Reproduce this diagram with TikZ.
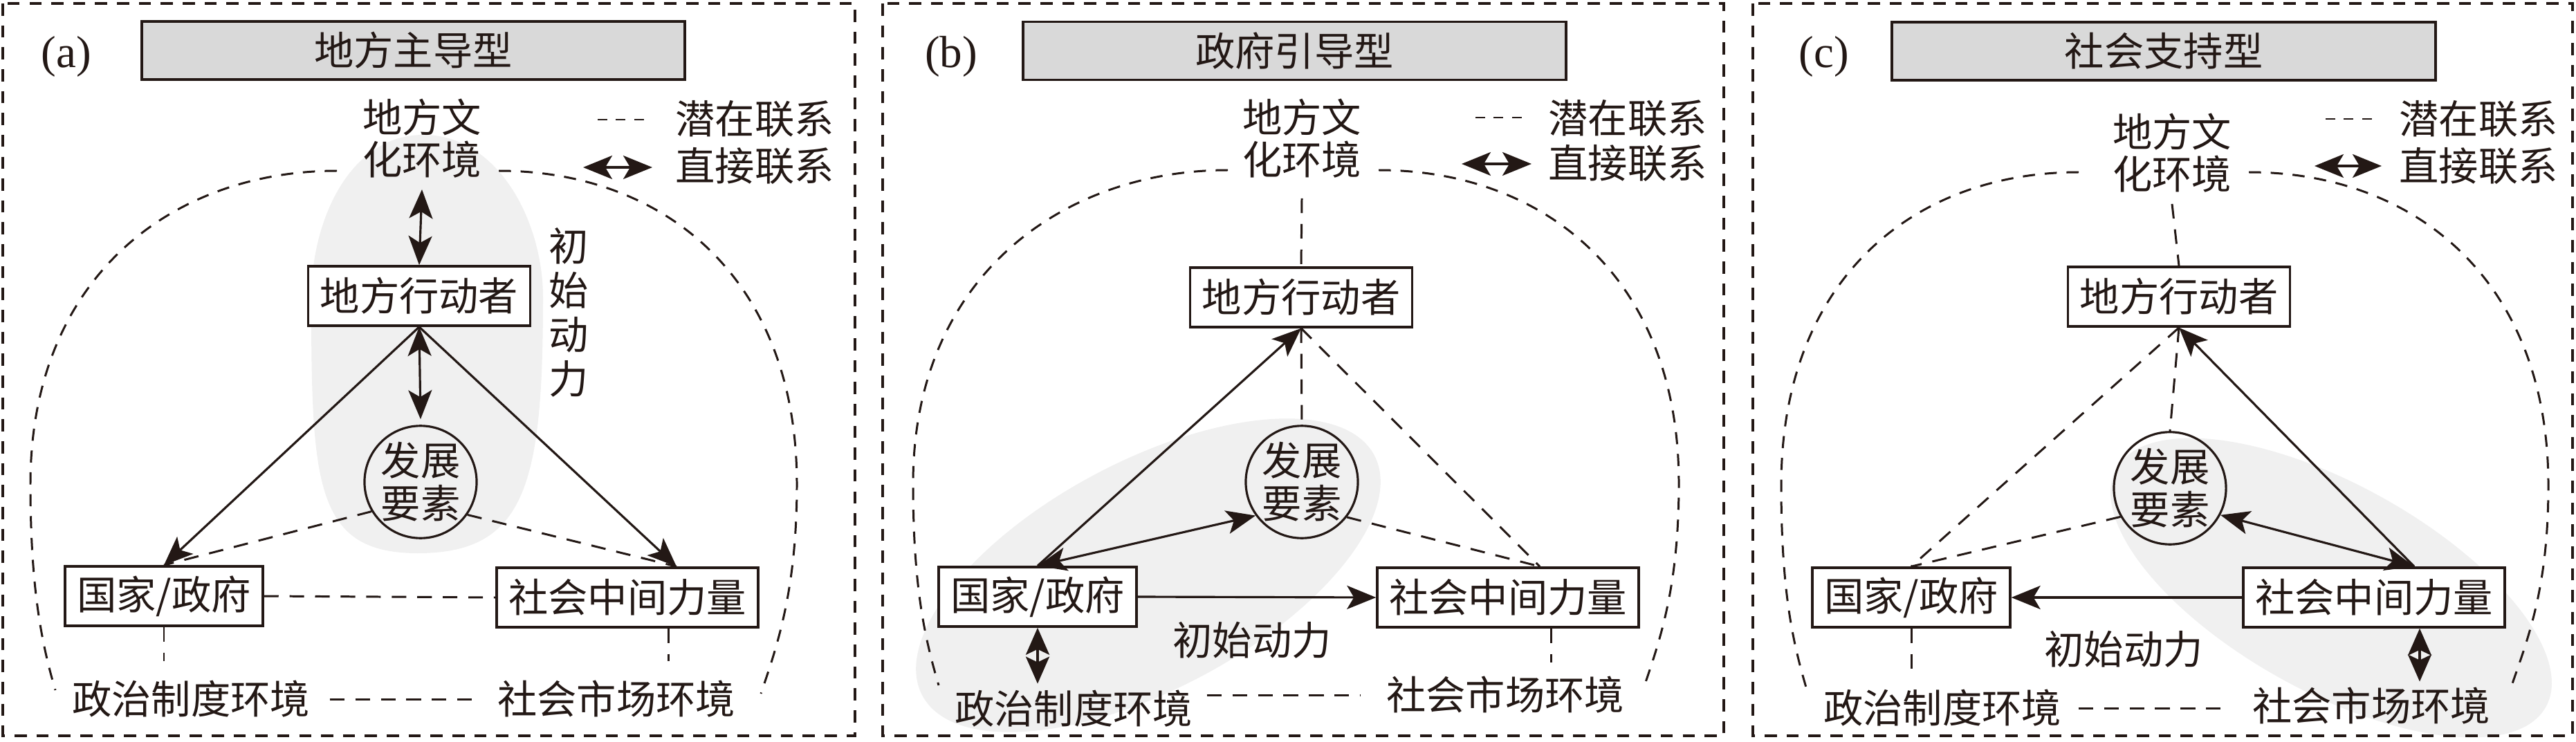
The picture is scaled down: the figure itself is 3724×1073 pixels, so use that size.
\documentclass[tikz,border=0pt]{standalone}
\usepackage{fontspec}
\setmainfont{Liberation Serif}
\newfontfamily\cjk{Noto Sans CJK SC}
\usetikzlibrary{arrows.meta,calc,shapes.geometric}
\definecolor{titlegray}{RGB}{217,217,217}
\definecolor{blobgray}{RGB}{240,240,240}
\definecolor{ink}{RGB}{35,24,21}
\begin{document}
\begin{tikzpicture}[x=0.01cm,y=-0.01cm,
  lbl/.style={font=\cjk\fontsize{16.3}{17.5}\selectfont, inner sep=0pt, text=ink},
  twoline/.style={lbl, align=center, font=\cjk\fontsize{16.3}{17.4}\selectfont},
  vlbl/.style={lbl, align=center, font=\cjk\fontsize{16.3}{18.2}\selectfont},
  plabel/.style={font=\fontsize{18.5}{20}\selectfont, inner sep=0pt, text=ink},
  box/.style={lbl, draw=ink, line width=1pt, inner xsep=0.17cm, minimum height=0.86cm, fill=white},
  titlebox/.style={lbl, draw=ink, line width=1.1pt, fill=titlegray, minimum width=7.85cm, minimum height=0.84cm},
  circnode/.style={lbl, draw=ink, line width=0.9pt, ellipse, minimum width=1.62cm, minimum height=1.58cm, align=center, font=\cjk\fontsize{16.3}{17.6}\selectfont},
  arr/.style={draw=ink, line width=0.9pt, -{Stealth[length=4.2mm, width=3.4mm, inset=1mm]}},
  dbl/.style={draw=ink, line width=0.9pt, {Stealth[length=4.2mm, width=3.4mm, inset=1mm]}-{Stealth[length=4.2mm, width=3.4mm, inset=1mm]}},
  fat/.style={draw=ink, line width=0.9pt, {Stealth[length=3.9mm, width=3.4mm, inset=0.8mm]}-{Stealth[length=3.9mm, width=3.4mm, inset=0.8mm]}},
  dsh/.style={draw=ink, line width=0.85pt, dash pattern=on 6pt off 4.5pt},
  lgdash/.style={draw=ink, line width=0.85pt, dash pattern=on 4pt off 3.5pt},
  arcline/.style={draw=ink, line width=0.85pt, dash pattern=on 5pt off 4pt},
  framebox/.style={draw=ink, line width=1.1pt, dash pattern=on 5pt off 4pt},
  blob/.style={fill=blobgray}
]
\useasboundingbox (0,0) rectangle (3724,1073);

% ---------- background blobs ----------
\fill[blob] (612,195) .. controls (720,195) and (785,320) .. (785,430)
  .. controls (785,700) and (760,800) .. (604,800)
  .. controls (455,800) and (450,700) .. (450,430)
  .. controls (450,320) and (505,195) .. (612,195) -- cycle;
\fill[blob, shift={(1660,832)}, rotate=28] (0,0) ellipse (370 and 165);
\fill[blob, shift={(3370,850)}, rotate=-29] (0,0) ellipse (355 and 150);

% ---------- frames ----------
\draw[framebox] (4,5) rectangle (1236,1064);
\draw[framebox] (1276,5) rectangle (2492,1064);
\draw[framebox] (2534,5) rectangle (3719,1064);

% ---------- dome arcs ----------
\draw[arcline] (487,247) .. controls +(-237,0) and +(0,-300) .. (44,700) .. controls +(0,150) and +(-20,-68) .. (80,998);
\draw[arcline] (721,247) .. controls +(237,0) and +(0,-300) .. (1152,700) .. controls +(0,150) and +(25,-73) .. (1100,1003);
\draw[arcline] (1775,246) .. controls +(-237,0) and +(0,-300) .. (1320,699) .. controls +(0,150) and +(-20,-68) .. (1357,991);
\draw[arcline] (1993,246) .. controls +(237,0) and +(0,-300) .. (2427,699) .. controls +(0,150) and +(25,-73) .. (2375,998);
\draw[arcline] (3005,249) .. controls +(-237,0) and +(0,-300) .. (2575,702) .. controls +(0,150) and +(-20,-68) .. (2611,994);
\draw[arcline] (3251,249) .. controls +(237,0) and +(0,-300) .. (3684,702) .. controls +(0,150) and +(25,-73) .. (3629,997);

% =================== Panel (a) ===================
\node[plabel] (labA) at (96,82) {(a)};
\node[titlebox] (titA) at (597.5,73) {地方主导型};
\node[twoline] (cultA) at (610,200) {地方文\\化环境};
\coordinate (lgdA1) at (864,173);
\coordinate (lgdA2) at (931,173);
\node[lbl] (lgtA1) at (1091,172) {潜在联系};
\coordinate (lgaA1) at (843,242);
\coordinate (lgaA2) at (943,242);
\node[lbl] (lgtA2) at (1091,240) {直接联系};
\node[box] (actA) at (606,428) {地方行动者};
\node[circnode] (circA) at (608,697) {发展\\要素};
\node[box] (govA) at (237,862) {国家/政府};
\node[box] (socA) at (907,864) {社会中间力量};
\node[vlbl] (initA) at (822,452) {初\\始\\动\\力};
\node[lbl] (polA) at (276,1011) {政治制度环境};
\node[lbl] (mktA) at (891,1011) {社会市场环境};
\coordinate (socAt) at ($(socA.north)+(71,0)$);
\coordinate (socAb) at ($(socA.south)+(59,0)$);

\draw[lgdash] (lgdA1) -- (lgdA2);
\draw[dbl] (lgaA1) -- (lgaA2);
\draw[dbl] ($(cultA.south)+(0,16)$) -- (actA.north);
\draw[dbl] (actA.south) -- ($(circA.north)+(0,-8)$);
\draw[arr] (actA.south) -- (govA.north);
\draw[arr] (actA.south) -- (socAt);
\draw[dsh] (circA.211) -- (govA.north);
\draw[dsh] (circA.325) -- (socAt);
\draw[dsh] (govA.east) -- (socA.west);
\draw[dsh, shorten >=0.28cm] (govA.south) -- (govA.south |- polA.north);
\draw[dsh, shorten >=0.28cm] (socAb) -- (socAb |- mktA.north);
\draw[dsh, shorten <=0.28cm, shorten >=0.28cm] (polA.east) -- (mktA.west);

% =================== Panel (b) ===================
\node[plabel] (labB) at (1375,82) {(b)};
\node[titlebox] (titB) at (1871.5,73.5) {政府引导型};
\node[twoline] (cultB) at (1882,200) {地方文\\化环境};
\coordinate (lgdB1) at (2133,170);
\coordinate (lgdB2) at (2202,170);
\node[lbl] (lgtB1) at (2353,171) {潜在联系};
\coordinate (lgaB1) at (2113,237);
\coordinate (lgaB2) at (2214,237);
\node[lbl] (lgtB2) at (2353,236) {直接联系};
\node[box] (actB) at (1881,430) {地方行动者};
\node[circnode] (circB) at (1882,697) {发展\\要素};
\node[box] (govB) at (1500,863) {国家/政府};
\node[box] (socB) at (2180,864) {社会中间力量};
\node[lbl] (initB) at (1810,926) {初始动力};
\node[lbl] (polB) at (1552,1025) {政治制度环境};
\node[lbl] (mktB) at (2176,1005) {社会市场环境};
\coordinate (socBt) at ($(socB.north)+(46,0)$);
\coordinate (socBb) at ($(socB.south)+(62,0)$);

\draw[lgdash] (lgdB1) -- (lgdB2);
\draw[dbl] (lgaB1) -- (lgaB2);
\draw[dsh] ($(cultB.south)+(0,29)$) -- (actB.north);
\draw[dsh] (actB.south) -- (circB.north);
\draw[arr] (govB.north) -- (actB.south);
\draw[dbl] (govB.north) -- (circB.216);
\draw[arr] (govB.east) -- (socB.west);
\draw[dsh] (actB.south) -- (socBt);
\draw[dsh] (circB.322) -- (socBt);
\draw[fat, shorten >=0.09cm] (govB.south) -- (govB.south |- polB.north);
\draw[dsh, shorten >=0.2cm] (socBb) -- (socBb |- mktB.north);
\draw[dsh, shorten <=0.2cm, shorten >=0.37cm] (polB.east |- mktB.west) -- (mktB.west);

% =================== Panel (c) ===================
\node[plabel] (labC) at (2637,82) {(c)};
\node[titlebox] (titC) at (3128,74) {社会支持型};
\node[twoline] (cultC) at (3140,221) {地方文\\化环境};
\coordinate (lgdC1) at (3362,172);
\coordinate (lgdC2) at (3430,172);
\node[lbl] (lgtC1) at (3583,172) {潜在联系};
\coordinate (lgaC1) at (3346,240);
\coordinate (lgaC2) at (3443,240);
\node[lbl] (lgtC2) at (3583,240) {直接联系};
\node[box] (actC) at (3150,429) {地方行动者};
\node[circnode] (circC) at (3137,706) {发展\\要素};
\node[box] (govC) at (2763,864) {国家/政府};
\node[box] (socC) at (3432,864) {社会中间力量};
\node[lbl] (initC) at (3070,939) {初始动力};
\node[lbl] (polC) at (2808,1024) {政治制度环境};
\node[lbl] (mktC) at (3428,1021) {社会市场环境};
\coordinate (socCt) at ($(socC.north)+(58,0)$);
\coordinate (socCb) at ($(socC.south)+(66,0)$);

\draw[lgdash] (lgdC1) -- (lgdC2);
\draw[dbl] (lgaC1) -- (lgaC2);
\draw[dsh] ($(cultC.south)+(0,16)$) -- (actC.north);
\draw[dsh] (actC.south) -- (circC.north);
\draw[arr] (socCt) -- (actC.south);
\draw[dbl] (circC.332) -- (socCt);
\draw[arr] (socC.west) -- (govC.east);
\draw[dsh] (actC.south) -- (govC.north);
\draw[dsh] (circC.210) -- (govC.north);
\draw[dsh, shorten >=0.25cm] (govC.south) -- (govC.south |- polC.north);
\draw[fat, shorten >=0.08cm] (socCb) -- (socCb |- mktC.north);
\draw[dsh, shorten <=0.24cm, shorten >=0.3cm] (polC.east) -- (mktC.west |- polC.east);
\end{tikzpicture}
\end{document}
